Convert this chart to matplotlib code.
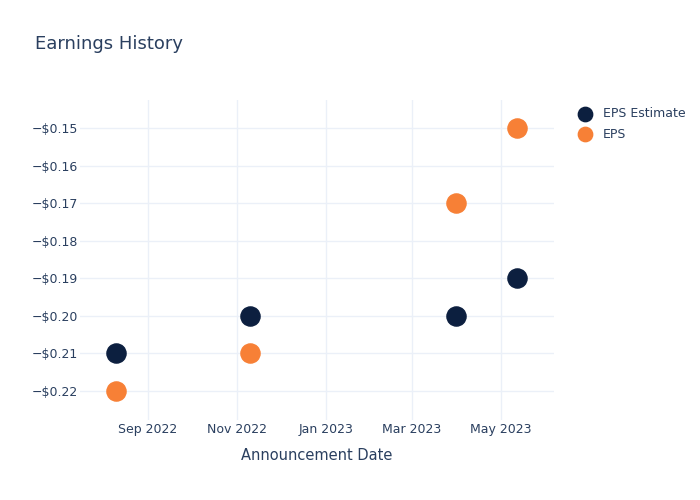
import matplotlib
matplotlib.use("Agg")
import matplotlib.pyplot as plt
import matplotlib.dates as mdates
from matplotlib.ticker import FuncFormatter
from datetime import datetime

# announcement dates and values
dates = ["2022-08-10", "2022-11-10", "2023-03-31", "2023-05-12"]
eps_estimate = [-0.21, -0.20, -0.20, -0.19]
eps_actual = [-0.22, -0.21, -0.17, -0.15]

text_color = "#2a3f5f"
grid_color = "#ebf0f8"
navy = "#0c1f3f"
orange = "#f78036"


def money(v, pos):
    if v < 0:
        return "\u2212$%.2f" % abs(v)
    return "$%.2f" % v


x = [datetime.strptime(d, "%Y-%m-%d") for d in dates]

fig = plt.figure(figsize=(7, 5), dpi=100)
ax = fig.add_axes([80 / 700, 1 - 420 / 500, 474 / 700, 320 / 500])

ax.scatter(x, eps_estimate, s=190, color=navy, label="EPS Estimate", zorder=3)
ax.scatter(x, eps_actual, s=190, color=orange, label="EPS", zorder=3)

ax.set_xlim(datetime(2022, 7, 16, 10), datetime(2023, 6, 6, 7))
ax.set_ylim(-0.22772, -0.14255)
ax.set_yticks([-0.22, -0.21, -0.20, -0.19, -0.18, -0.17, -0.16, -0.15])
ax.yaxis.set_major_formatter(FuncFormatter(money))
ax.xaxis.set_major_locator(mdates.MonthLocator(bymonth=[1, 3, 5, 7, 9, 11]))
ax.xaxis.set_major_formatter(mdates.DateFormatter("%b %Y"))

ax.grid(True, color=grid_color, linewidth=1)
ax.set_axisbelow(True)
for s in ax.spines.values():
    s.set_visible(False)
ax.tick_params(length=0, labelsize=9, colors=text_color)
ax.tick_params(axis="y", pad=1.5)
ax.tick_params(axis="x", pad=2)

ax.set_xlabel("Announcement Date", fontsize=10.5, color=text_color, labelpad=9)
fig.text(35 / 700, 1 - 44 / 500, "Earnings History", fontsize=13,
         color=text_color, va="center", ha="left")

leg = fig.legend(loc="upper left", bbox_to_anchor=(572 / 700, 1 - 107 / 500),
                 frameon=False, fontsize=9, handletextpad=0.5, markerscale=0.75,
                 labelspacing=0.6, borderaxespad=0, borderpad=0)
for t in leg.get_texts():
    t.set_color(text_color)

fig.savefig("out.png", dpi=100)
